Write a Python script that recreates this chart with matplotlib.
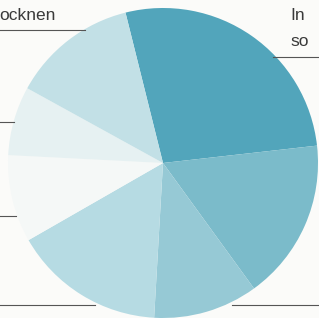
import matplotlib
matplotlib.use("Agg")
import matplotlib.pyplot as plt

# Slice shares (percent), clockwise from the top boundary
shares = [27.1, 16.8, 10.9, 15.8, 9.1, 7.2, 13.1]
colors = ["#52a5bb", "#7bbbca", "#96c9d5", "#b6dbe3", "#f5f8f7", "#e6f1f2", "#c2e0e6"]
labels_top_left = "ocknen"
labels_top_right = ["In", "so"]

W, H = 319, 318
fig = plt.figure(figsize=(W / 100, H / 100), dpi=100)
fig.patch.set_facecolor("#fbfbf9")
ax = fig.add_axes([0, 0, 1, 1])

cx, cy, r = 163, H - 163, 155
ax.pie(shares, colors=colors, startangle=104, counterclock=False,
       center=(cx, cy), radius=r, frame=True,
       wedgeprops=dict(linewidth=0))
ax.set_xlim(0, W)
ax.set_ylim(0, H)
ax.set_aspect("equal")
ax.axis("off")

txt_color = "#3a3a3a"
line_color = "#555555"
font = "Liberation Sans"
ax.text(-1, H - 16, labels_top_left, fontsize=12.5, color=txt_color,
        va="center", ha="left", family=font)
ax.text(290, H - 16, labels_top_right[0], fontsize=12.5, color=txt_color,
        va="center", ha="left", family=font)
ax.text(290, H - 41, labels_top_right[1], fontsize=12.5, color=txt_color,
        va="center", ha="left", family=font)

lw = 0.8
ax.plot([0, 85], [H - 30, H - 30], color=line_color, lw=lw)
ax.plot([273, W], [H - 57, H - 57], color=line_color, lw=lw)
ax.plot([0, 14], [H - 122, H - 122], color=line_color, lw=lw)
ax.plot([0, 16], [H - 216, H - 216], color=line_color, lw=lw)
ax.plot([0, 95], [H - 305, H - 305], color=line_color, lw=lw)
ax.plot([232, W], [H - 305, H - 305], color=line_color, lw=lw)

fig.savefig("out.png", dpi=100, facecolor=fig.get_facecolor())
